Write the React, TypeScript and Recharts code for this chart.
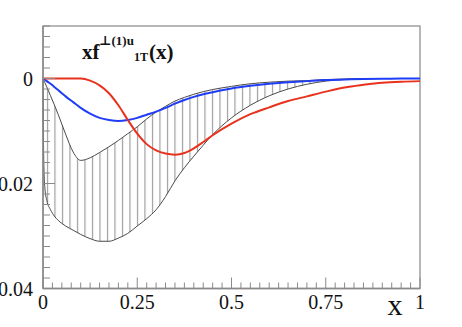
import { ComposedChart, Area, Line, XAxis, YAxis, ReferenceArea } from "recharts";

// sample points along x (shared by all curves)
const xValues = [
  0, 0.001, 0.0025, 0.005, 0.01, 0.02, 0.03, 0.04, 0.05, 0.06, 0.08, 0.1,
  0.125, 0.15, 0.175, 0.2, 0.225, 0.25, 0.275, 0.3, 0.325, 0.35, 0.375, 0.4,
  0.425, 0.45, 0.5, 0.55, 0.6, 0.65, 0.7, 0.75, 0.8, 0.85, 0.9, 0.95, 1,
];

const blueCurve = [
  0, -0.00004, -0.0001, -0.0002, -0.0005, -0.001, -0.0016, -0.0022, -0.0028, -0.0034, -0.0045, -0.0056,
  -0.0067, -0.0075, -0.0079, -0.0081, -0.0079, -0.0075, -0.0069, -0.0063, -0.0056, -0.0048, -0.0041, -0.0035,
  -0.003, -0.0026, -0.0019, -0.0014, -0.001, -0.0007, -0.0005, -0.0003, -0.0002, -0.0001, -0.00005, -0.00002, 0,
];

const redCurve = [
  0, 0, 0, 0, 0, 0, 0, 0, 0, 0, 0, 0,
  -0.0004, -0.0013, -0.0028, -0.0051, -0.0079, -0.0105, -0.0125, -0.0137, -0.0143, -0.0145, -0.0142, -0.0133,
  -0.0121, -0.0108, -0.0086, -0.0068, -0.0055, -0.0043, -0.0034, -0.0025, -0.0017, -0.0012, -0.0008, -0.0006, -0.0005,
];

const bandUpper = [
  0, -0.00016, -0.0004, -0.0008, -0.0016, -0.0033, -0.005, -0.0068, -0.0087, -0.0106, -0.014, -0.0156,
  -0.0151, -0.0141, -0.013, -0.0118, -0.0105, -0.0092, -0.0077, -0.0064, -0.0053, -0.0043, -0.0036, -0.003,
  -0.0025, -0.0021, -0.0015, -0.001, -0.0007, -0.0005, -0.0004, -0.0002, -0.0001, 0, 0, 0, 0,
];

const bandLower = [
  0, -0.01, -0.017, -0.0209, -0.0232, -0.025, -0.0262, -0.027, -0.0276, -0.0281, -0.0289, -0.0297,
  -0.0305, -0.031, -0.031, -0.0304, -0.0295, -0.0281, -0.0267, -0.025, -0.0225, -0.0195, -0.017, -0.0148,
  -0.0127, -0.0107, -0.0075, -0.0051, -0.0033, -0.002, -0.0011, -0.0005, -0.0002, -0.0001, 0, 0, 0,
];

const xTicks = [
  0, 0.025, 0.05, 0.075, 0.1, 0.125, 0.15, 0.175, 0.2, 0.225, 0.25, 0.275, 0.3, 0.325, 0.35, 0.375,
  0.4, 0.425, 0.45, 0.475, 0.5, 0.525, 0.55, 0.575, 0.6, 0.625, 0.65, 0.675, 0.7, 0.725, 0.75, 0.775,
  0.8, 0.825, 0.85, 0.875, 0.9, 0.925, 0.95, 0.975, 1,
];
const xMajor = [0, 0.25, 0.5, 0.75, 1];
const xMajorLabels = ["0", "0.25", "0.5", "0.75", "1"];

const yTicks = [
  0.01, 0.008, 0.006, 0.004, 0.002, 0, -0.002, -0.004, -0.006, -0.008, -0.01, -0.012, -0.014,
  -0.016, -0.018, -0.02, -0.022, -0.024, -0.026, -0.028, -0.03, -0.032, -0.034, -0.036, -0.038, -0.04,
];
const yMajor = [0, -0.02, -0.04];
const yMajorLabels = ["0", "-0.02", "-0.04"];

const rows = xValues.map((x, i) => ({
  x,
  blue: blueCurve[i],
  red: redCurve[i],
  upper: bandUpper[i],
  lower: bandLower[i],
  band: [bandLower[i], bandUpper[i]],
}));

const serif = "'Liberation Serif', 'DejaVu Serif', serif";
const axisColor = "#8a8a8a";

function majorIndex(list: number[], v: number) {
  return list.findIndex((m) => Math.abs(m - v) < 1e-9);
}

function XTick(props: any) {
  const { x, y, payload } = props;
  const idx = majorIndex(xMajor, payload.value);
  const major = idx >= 0;
  return (
    <g>
      <line x1={x} x2={x} y1={y} y2={y - (major ? 11 : 6)} stroke={axisColor} strokeWidth={1} />
      {major && (
        <text x={x} y={y + 20} textAnchor="middle" fontSize={20} fontFamily={serif} fill="#111">
          {xMajorLabels[idx]}
        </text>
      )}
    </g>
  );
}

function YTick(props: any) {
  const { x, y, payload } = props;
  const idx = majorIndex(yMajor, payload.value);
  const major = idx >= 0;
  return (
    <g>
      <line x1={x} x2={x + (major ? 12 : 7)} y1={y} y2={y} stroke={axisColor} strokeWidth={1} />
      {major && (
        <text x={x - 10} y={y + 7} textAnchor="end" fontSize={20} fontFamily={serif} fill="#111">
          {yMajorLabels[idx]}
        </text>
      )}
    </g>
  );
}

export default function App() {
  return (
    <div style={{ position: "absolute", left: 0, top: 0, width: 462, height: 327, background: "#fff" }}>
      <ComposedChart
        width={462}
        height={327}
        data={rows}
        margin={{ top: 26, right: 42, bottom: 8.5, left: 0 }}
      >
        <defs>
          <pattern id="hatch" patternUnits="userSpaceOnUse" x={0} y={0} width={7.5} height={10}>
            <line x1={2.5} x2={2.5} y1={0} y2={10} stroke="#8c8c8c" strokeWidth={1} />
          </pattern>
        </defs>
        <XAxis
          dataKey="x"
          type="number"
          domain={[0, 1]}
          ticks={xTicks}
          interval={0}
          height={30}
          tickSize={0}
          tickMargin={0}
          tickLine={false}
          axisLine={{ stroke: axisColor, strokeWidth: 1.5 }}
          tick={(p: any) => <XTick {...p} />}
        />
        <YAxis
          type="number"
          domain={[-0.04, 0.01]}
          ticks={yTicks}
          interval={0}
          width={43}
          tickSize={0}
          tickMargin={0}
          tickLine={false}
          axisLine={{ stroke: axisColor, strokeWidth: 1.5 }}
          tick={(p: any) => <YTick {...p} />}
        />
        <ReferenceArea x1={0} x2={1} y1={-0.04} y2={0.01} fill="none" stroke="#a0a0a0" strokeWidth={1.5} />
        <Area
          type="monotone"
          dataKey="band"
          stroke="none"
          fill="url(#hatch)"
          fillOpacity={1}
          isAnimationActive={false}
        />
        <Line type="monotone" dataKey="upper" stroke="#4a4a4a" strokeWidth={1} dot={false} isAnimationActive={false} />
        <Line type="monotone" dataKey="lower" stroke="#4a4a4a" strokeWidth={1} dot={false} isAnimationActive={false} />
        <Line type="monotone" dataKey="blue" stroke="#1f3df5" strokeWidth={2} dot={false} isAnimationActive={false} />
        <Line type="monotone" dataKey="red" stroke="#e8321e" strokeWidth={2} dot={false} isAnimationActive={false} />
      </ComposedChart>
      <svg
        width={462}
        height={327}
        style={{ position: "absolute", left: 0, top: 0, pointerEvents: "none" }}
      >
        <text fontFamily={serif} fontWeight="bold" fill="#111">
          <tspan x={82} y={58.5} fontSize={21}>xf</tspan>
          <tspan x={99} y={45} fontSize={13}>⊥(1)u</tspan>
          <tspan x={134} y={61} fontSize={12}>1T</tspan>
          <tspan x={149} y={58.5} fontSize={21}>(x)</tspan>
        </text>
        <text x={395} y={315} textAnchor="middle" fontFamily={serif} fontSize={30} fill="#111">
          x
        </text>
      </svg>
    </div>
  );
}
